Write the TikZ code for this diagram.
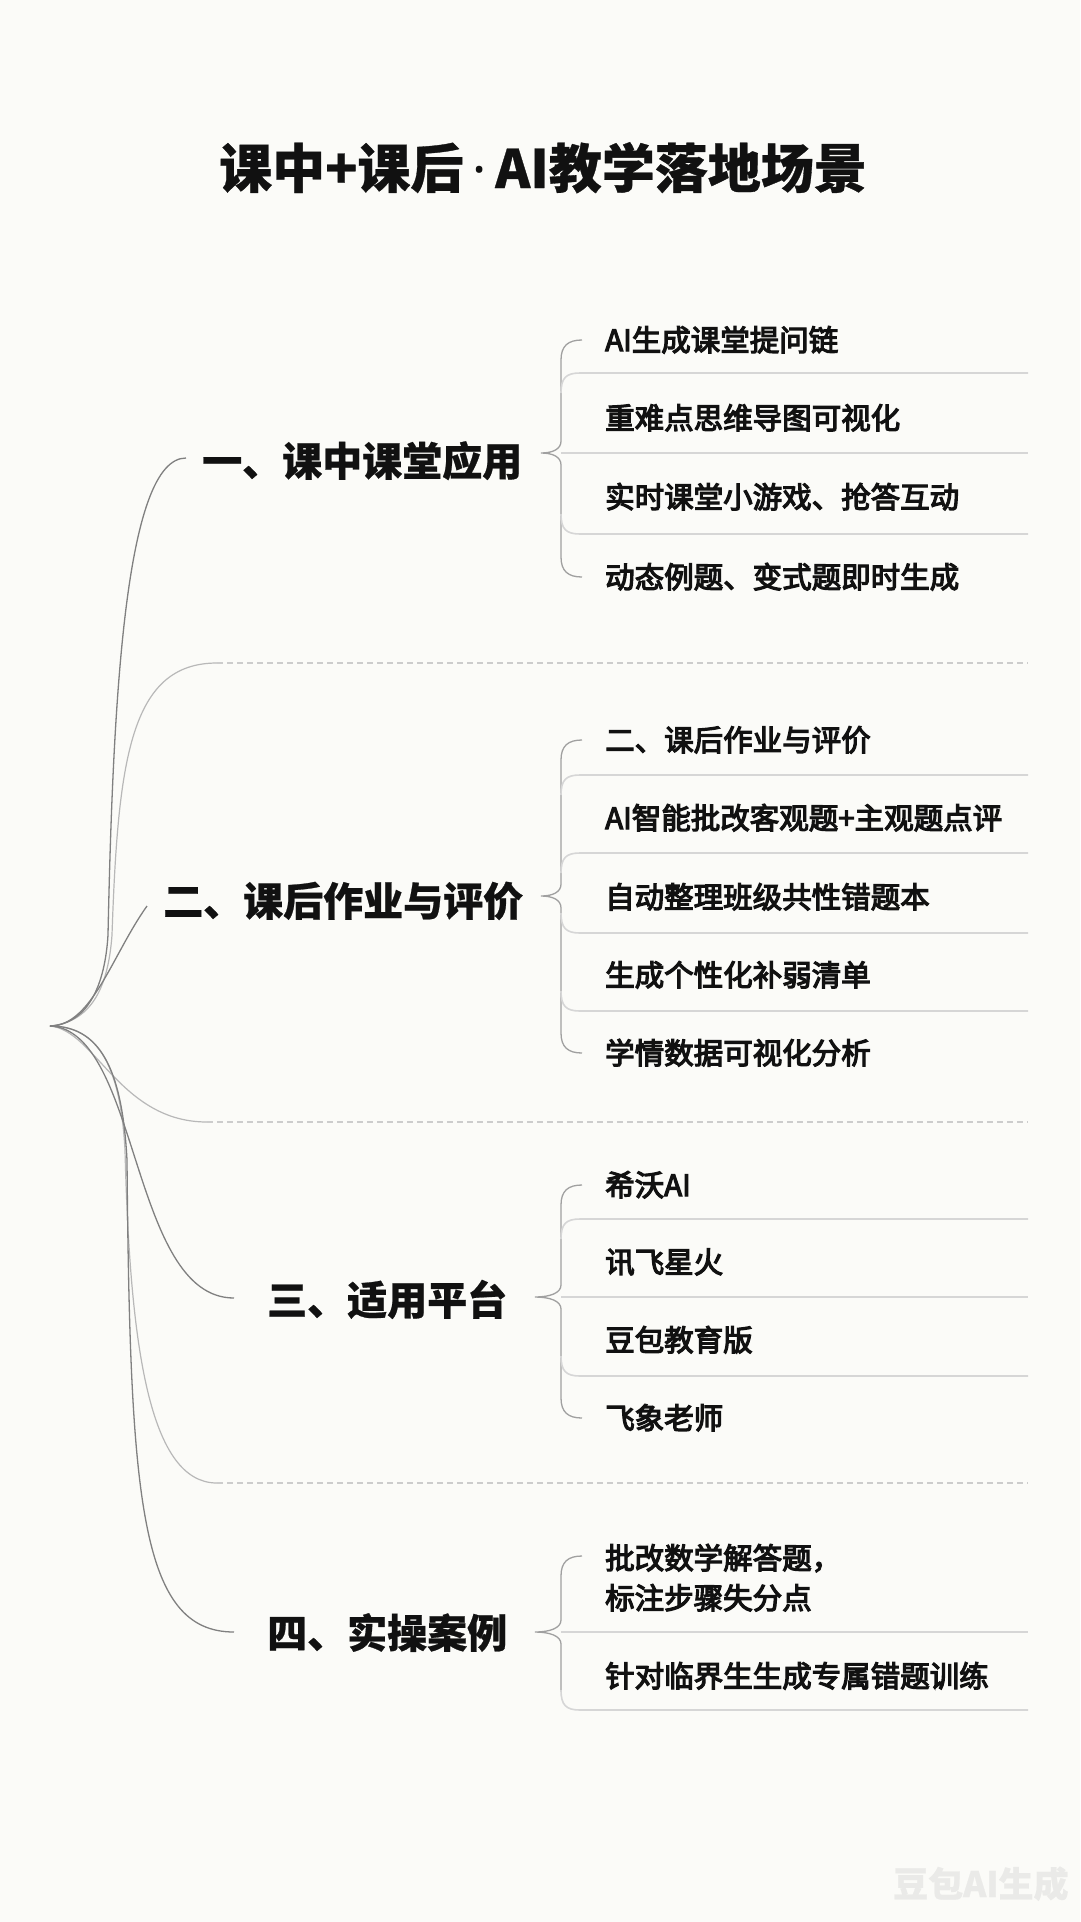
\documentclass[tikz,border=0pt]{standalone}
\usepackage{fontspec}
\newfontfamily\cjk[BoldFeatures={FakeBold=0.6}]{Noto Sans CJK SC}
\newfontfamily\cjkm[FakeBold=4]{Noto Sans CJK SC}
\newfontfamily\latin{Noto Sans}
\definecolor{bgc}{HTML}{FBFBF8}
\definecolor{txt}{HTML}{111111}
\definecolor{cone}{HTML}{808080}
\definecolor{ctwo}{HTML}{B8B8B8}
\definecolor{cdash}{HTML}{CCCCCC}
\definecolor{ctrunk}{HTML}{A0A0A0}
\definecolor{csep}{HTML}{D6D6D6}
\definecolor{cwm}{HTML}{EAEAE8}
\begin{document}
\begin{tikzpicture}[x=1pt,y=-1pt,
  titletext/.style={font=\cjk\bfseries\fontsize{53}{60}\selectfont, text=txt, inner sep=0pt, anchor=base},
  headtext/.style={font=\cjk\bfseries\fontsize{40}{48}\selectfont, text=txt, inner sep=0pt, anchor=base west},
  leaftext/.style={font=\cjkm\fontsize{29.5}{36}\selectfont, text=txt, inner sep=0pt, anchor=base west},
  headline/.style={draw=cone, line width=1.3pt},
  dashcurve/.style={draw=ctwo, line width=1.2pt},
  dashsep/.style={draw=cdash, line width=1.3pt, dash pattern=on 6pt off 4pt},
  trunkline/.style={draw=ctrunk, line width=1.3pt},
  sepline/.style={draw=csep, line width=1.6pt}]
\fill[bgc] (0,0) rectangle (1080,1922);
\useasboundingbox (0,0) rectangle (1080,1922);

% title
\node[titletext] (title) at (543,188) {课中+课后\,{\latin\bfseries ·}\,AI教学落地场景};

% headings
\node[headtext] (h1) at (202,476) {一、课中课堂应用};
\node[headtext] (h2) at (163,916) {二、课后作业与评价};
\node[headtext] (h3) at (267,1315) {三、适用平台};
\node[headtext] (h4) at (267,1648) {四、实操案例};

% leaves section 1
\node[leaftext] (l11) at (605,351) {AI生成课堂提问链};
\node[leaftext] (l12) at (605,429) {重难点思维导图可视化};
\node[leaftext] (l13) at (605,508) {实时课堂小游戏、抢答互动};
\node[leaftext] (l14) at (605,588) {动态例题、变式题即时生成};
% section 2
\node[leaftext] (l21) at (605,751) {二、课后作业与评价};
\node[leaftext] (l22) at (605,829) {AI智能批改客观题+主观题点评};
\node[leaftext] (l23) at (605,908) {自动整理班级共性错题本};
\node[leaftext] (l24) at (605,986) {生成个性化补弱清单};
\node[leaftext] (l25) at (605,1064) {学情数据可视化分析};
% section 3
\node[leaftext] (l31) at (605,1196) {希沃AI};
\node[leaftext] (l32) at (605,1273) {讯飞星火};
\node[leaftext] (l33) at (605,1351) {豆包教育版};
\node[leaftext] (l34) at (605,1429) {飞象老师};
% section 4
\node[leaftext] (l41a) at (605,1569) {批改数学解答题，};
\node[leaftext] (l41b) at (605,1609) {标注步骤失分点};
\node[leaftext] (l42) at (605,1687) {针对临界生生成专属错题训练};

% watermark
\node[font=\cjk\bfseries\fontsize{35}{40}\selectfont, text=cwm, inner sep=0pt, anchor=base west] (wm) at (893,1897) {豆包AI生成};

% root and connector ends
\coordinate (root) at (50,1026);
\coordinate (e1) at (186,458);
\coordinate (d1) at (217,663);
\coordinate (e2) at (147,906);
\coordinate (d2) at (207,1122);
\coordinate (e3) at (234,1298);
\coordinate (d3) at (217,1483);
\coordinate (e4) at (234,1632);
\coordinate (d1e) at (1028,663);
\coordinate (d2e) at (1028,1122);
\coordinate (d3e) at (1028,1483);

% root curves
\draw[dashcurve] (root) .. controls (90,1022) and (108,990) .. (112,935) .. controls (118,760) and (130,663) .. (d1);
\draw[dashcurve] (root) .. controls (95,1030) and (120,1122) .. (d2);
\draw[dashcurve] (root) .. controls (95,1026) and (120,1060) .. (125,1150) .. controls (130,1350) and (150,1483) .. (d3);
\draw[headline] (root) .. controls (88,1024) and (105,985) .. (108,935) .. controls (113,700) and (125,458) .. (e1);
\draw[headline] (root) .. controls (92,1026) and (112,955) .. (e2);
\draw[headline] (root) .. controls (140,1030) and (130,1298) .. (e3);
\draw[headline] (root) .. controls (98,1026) and (122,1065) .. (127,1160) .. controls (130,1500) and (140,1632) .. (e4);

% dashed separators
\draw[dashsep] (d1) -- (d1e);
\draw[dashsep] (d2) -- (d2e);
\draw[dashsep] (d3) -- (d3e);

% section 1 brace
\coordinate (hub1) at (541,453);
\coordinate (t1a) at (582,340);
\coordinate (t1b) at (582,577);
\draw[trunkline] (t1a) .. controls (568,340) and (561,346) .. (561,360) -- (561,441)
  .. controls (561,449) and (553,453) .. (hub1) .. controls (553,453) and (561,457) .. (561,465)
  -- (561,557) .. controls (561,571) and (568,577) .. (t1b);
\draw[sepline] (561,393) .. controls (561,378) and (566,373) .. (580,373) -- (1028,373);
\draw[sepline] (561,453) -- (1028,453);
\draw[sepline] (561,514) .. controls (561,529) and (566,534) .. (580,534) -- (1028,534);

% section 2 brace
\coordinate (hub2) at (541,896);
\coordinate (t2a) at (582,740);
\coordinate (t2b) at (582,1053);
\draw[trunkline] (t2a) .. controls (568,740) and (561,746) .. (561,760) -- (561,884)
  .. controls (561,892) and (553,896) .. (hub2) .. controls (553,896) and (561,900) .. (561,908)
  -- (561,1033) .. controls (561,1047) and (568,1053) .. (t2b);
\draw[sepline] (561,795) .. controls (561,780) and (566,775) .. (580,775) -- (1028,775);
\draw[sepline] (561,873) .. controls (561,858) and (566,853) .. (580,853) -- (1028,853);
\draw[sepline] (561,913) .. controls (561,928) and (566,933) .. (580,933) -- (1028,933);
\draw[sepline] (561,991) .. controls (561,1006) and (566,1011) .. (580,1011) -- (1028,1011);

% section 3 brace
\coordinate (hub3) at (535,1297);
\coordinate (t3a) at (582,1185);
\coordinate (t3b) at (582,1418);
\draw[trunkline] (t3a) .. controls (568,1185) and (561,1191) .. (561,1205) -- (561,1285)
  .. controls (561,1293) and (550,1297) .. (hub3) .. controls (550,1297) and (561,1301) .. (561,1309)
  -- (561,1398) .. controls (561,1412) and (568,1418) .. (t3b);
\draw[sepline] (561,1239) .. controls (561,1224) and (566,1219) .. (580,1219) -- (1028,1219);
\draw[sepline] (561,1297) -- (1028,1297);
\draw[sepline] (561,1356) .. controls (561,1371) and (566,1376) .. (580,1376) -- (1028,1376);

% section 4 brace
\coordinate (hub4) at (535,1632);
\coordinate (t4a) at (582,1556);
\draw[trunkline] (t4a) .. controls (568,1556) and (561,1562) .. (561,1576) -- (561,1620)
  .. controls (561,1628) and (550,1632) .. (hub4) .. controls (550,1632) and (561,1636) .. (561,1644)
  -- (561,1690);
\draw[sepline] (561,1632) -- (1028,1632);
\draw[sepline] (561,1690) .. controls (561,1705) and (566,1710) .. (580,1710) -- (1028,1710);
\end{tikzpicture}
\end{document}
